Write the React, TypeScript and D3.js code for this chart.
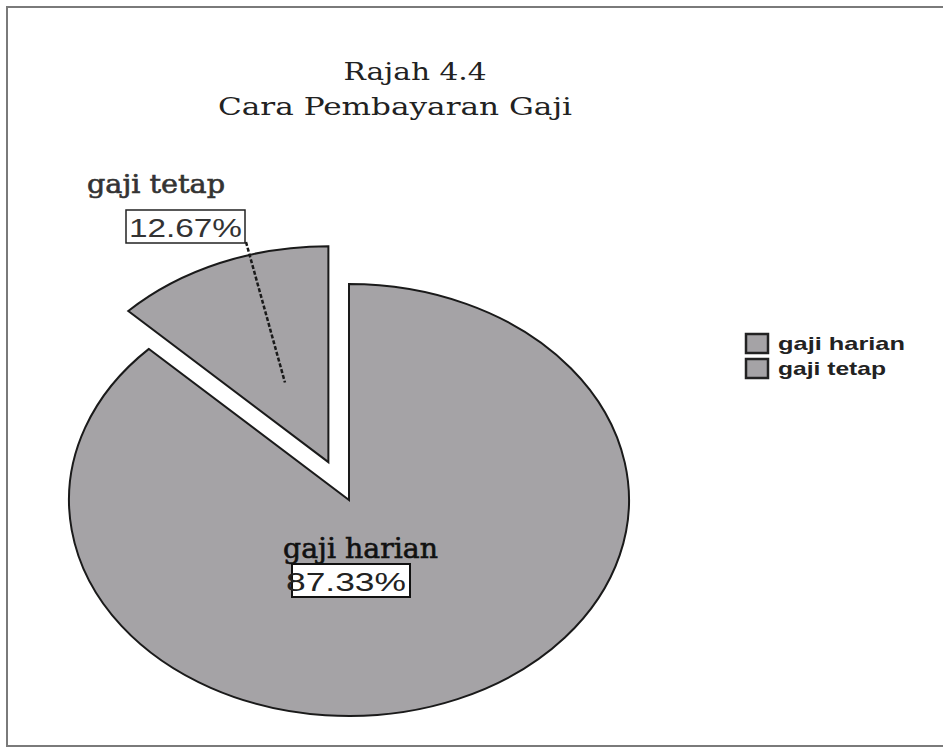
import React, { useEffect, useRef } from "react";
import * as d3 from "d3";

// Data
const categories = ["gaji harian", "gaji tetap"];
const values = [87.33, 12.67];
const percentLabels = ["87.33%", "12.67%"];
const titleLines = ["Rajah 4.4", "Cara Pembayaran Gaji"];

const W = 943;
const H = 748;

// Pie geometry (ellipse, squashed vertically)
const cx = 349;
const cy = 500;
const rx = 280;
const ry = 216;
const explode = 0.19;
const fillGrey = "#a5a3a6";

const App = () => {
  const ref = useRef<SVGSVGElement | null>(null);

  useEffect(() => {
    if (!ref.current) return;
    const svg = d3.select(ref.current);
    svg.selectAll("*").remove();

    svg.append("rect").attr("width", W).attr("height", H).attr("fill", "#fff");

    // Frame
    svg
      .append("rect")
      .attr("x", 7)
      .attr("y", 7)
      .attr("width", W + 20)
      .attr("height", 739)
      .attr("fill", "none")
      .attr("stroke", "#7a7a7a")
      .attr("stroke-width", 2);

    // Titles
    svg
      .append("text")
      .attr("x", 415)
      .attr("y", 80)
      .attr("text-anchor", "middle")
      .attr("font-family", "DejaVu Serif")
      .attr("font-size", 25)
      .attr("fill", "#222")
      .attr("textLength", 143)
      .attr("lengthAdjust", "spacingAndGlyphs")
      .text(titleLines[0]);
    svg
      .append("text")
      .attr("x", 395)
      .attr("y", 115)
      .attr("text-anchor", "middle")
      .attr("font-family", "DejaVu Serif")
      .attr("font-size", 25)
      .attr("fill", "#222")
      .attr("textLength", 354)
      .attr("lengthAdjust", "spacingAndGlyphs")
      .text(titleLines[1]);

    const pie = d3.pie<number>().sort(null).value((d) => d);
    const arcs = pie(values);
    const arc = d3.arc<d3.PieArcDatum<number>>().innerRadius(0).outerRadius(ry);

    const offsetOf = (a: d3.PieArcDatum<number>, i: number) => {
      if (i !== 1) return [0, 0];
      const mid = (a.startAngle + a.endAngle) / 2;
      return [explode * rx * Math.sin(mid), -explode * ry * Math.cos(mid)];
    };

    const slices = svg.append("g");
    arcs.forEach((a, i) => {
      const [ox, oy] = offsetOf(a, i);
      slices
        .append("path")
        .attr("d", arc(a))
        .attr(
          "transform",
          `translate(${cx + ox},${cy + oy}) scale(${rx / ry},1)`
        )
        .attr("fill", fillGrey)
        .attr("stroke", "#1a1a1a")
        .attr("stroke-width", 2)
        .attr("vector-effect", "non-scaling-stroke")
        .attr("stroke-linejoin", "miter");
    });

    // Label for small slice (with leader line)
    const t = arcs[1];
    const [tox, toy] = offsetOf(t, 1);
    const tMid = (t.startAngle + t.endAngle) / 2;
    const innerX = cx + tox + 0.4 * rx * Math.sin(tMid);
    const innerY = cy + toy - 0.4 * ry * Math.cos(tMid);

    svg
      .append("line")
      .attr("x1", 246)
      .attr("y1", 242)
      .attr("x2", innerX)
      .attr("y2", innerY)
      .attr("stroke", "#1a1a1a")
      .attr("stroke-width", 2.5)
      .attr("stroke-dasharray", "4,2");

    svg
      .append("text")
      .attr("x", 87)
      .attr("y", 193)
      .attr("font-family", "DejaVu Serif")
      .attr("font-size", 26)
      .attr("fill", "#333")
      .attr("stroke", "#333")
      .attr("stroke-width", 0.6)
      .attr("textLength", 138)
      .attr("lengthAdjust", "spacingAndGlyphs")
      .text(categories[1]);

    svg
      .append("rect")
      .attr("x", 126)
      .attr("y", 210)
      .attr("width", 119)
      .attr("height", 33)
      .attr("fill", "#fff")
      .attr("stroke", "#222")
      .attr("stroke-width", 1.5);
    svg
      .append("text")
      .attr("x", 129)
      .attr("y", 237)
      .attr("font-family", "Liberation Sans")
      .attr("font-size", 25)
      .attr("fill", "#333")
      .attr("textLength", 113)
      .attr("lengthAdjust", "spacingAndGlyphs")
      .text(percentLabels[1]);

    // Label for big slice
    svg
      .append("text")
      .attr("x", 283)
      .attr("y", 558)
      .attr("font-family", "DejaVu Serif")
      .attr("font-size", 27)
      .attr("fill", "#111")
      .attr("stroke", "#111")
      .attr("stroke-width", 0.6)
      .attr("textLength", 155)
      .attr("lengthAdjust", "spacingAndGlyphs")
      .text(categories[0]);

    svg
      .append("rect")
      .attr("x", 292)
      .attr("y", 564)
      .attr("width", 118)
      .attr("height", 33)
      .attr("fill", "#fff")
      .attr("stroke", "#111")
      .attr("stroke-width", 2);
    svg
      .append("text")
      .attr("x", 286)
      .attr("y", 591)
      .attr("font-family", "Liberation Sans")
      .attr("font-size", 25)
      .attr("fill", "#222")
      .attr("textLength", 120)
      .attr("lengthAdjust", "spacingAndGlyphs")
      .text(percentLabels[0]);

    // Legend
    const legend = svg.append("g").attr("transform", "translate(746,334)");
    categories.forEach((c, i) => {
      const g = legend.append("g").attr("transform", `translate(0,${i * 25})`);
      g.append("rect")
        .attr("x", 0)
        .attr("y", 0)
        .attr("width", 22)
        .attr("height", 19)
        .attr("fill", fillGrey)
        .attr("stroke", "#222")
        .attr("stroke-width", 2.5);
      g.append("text")
        .attr("x", 32)
        .attr("y", 16)
        .attr("font-family", "Liberation Sans")
        .attr("font-weight", "bold")
        .attr("font-size", 19)
        .attr("fill", "#222")
        .attr("textLength", i === 0 ? 127 : 108)
        .attr("lengthAdjust", "spacingAndGlyphs")
        .text(c);
    });
  }, []);

  return (
    <svg
      ref={ref}
      width={W}
      height={H}
      style={{ position: "absolute", left: 0, top: 0 }}
    />
  );
};

export default App;
